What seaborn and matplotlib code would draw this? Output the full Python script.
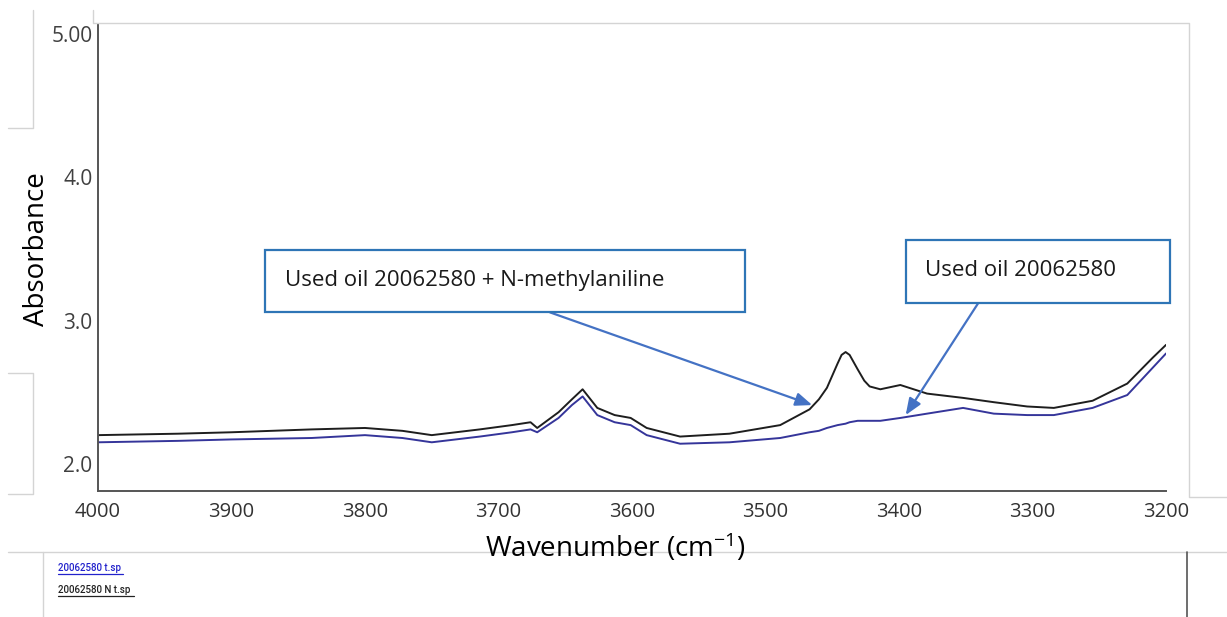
import matplotlib
matplotlib.use("Agg")
import matplotlib.pyplot as plt
from matplotlib.lines import Line2D
from matplotlib.patches import Rectangle
from matplotlib import font_manager
import seaborn as sns
import pandas as pd

# ---- data ----
wavenumber = [4000, 3940, 3900, 3840, 3800, 3772, 3750, 3714, 3690, 3676, 3671, 3655,
              3645, 3637, 3626, 3613, 3601, 3589, 3564, 3527, 3489, 3467, 3460, 3454,
              3446, 3443, 3440, 3437, 3431, 3426, 3422, 3414, 3399, 3379, 3352, 3329,
              3304, 3284, 3255, 3229, 3210, 3200]
abs_with_nma = [2.20, 2.21, 2.22, 2.24, 2.25, 2.23, 2.20, 2.24, 2.27, 2.29, 2.25, 2.36,
                2.45, 2.52, 2.39, 2.34, 2.32, 2.25, 2.19, 2.21, 2.27, 2.38, 2.45, 2.53,
                2.70, 2.76, 2.78, 2.76, 2.66, 2.58, 2.54, 2.52, 2.55, 2.49, 2.46, 2.43,
                2.40, 2.39, 2.44, 2.56, 2.74, 2.83]
abs_used_oil = [2.15, 2.16, 2.17, 2.18, 2.20, 2.18, 2.15, 2.19, 2.22, 2.24, 2.22, 2.32,
                2.41, 2.47, 2.34, 2.29, 2.27, 2.20, 2.14, 2.15, 2.18, 2.22, 2.23, 2.25,
                2.27, 2.275, 2.28, 2.29, 2.30, 2.30, 2.30, 2.30, 2.32, 2.35, 2.39, 2.35,
                2.34, 2.34, 2.39, 2.48, 2.67, 2.77]
series_names = ["20062580 N t.sp", "20062580 t.sp"]
x_ticks = [4000, 3900, 3800, 3700, 3600, 3500, 3400, 3300, 3200]
y_ticks = [2.0, 3.0, 4.0, 5.0]
y_tick_labels = ["2.0", "3.0", "4.0", "5.00"]
label_nma = "Used oil 20062580 + N-methylaniline"
label_oil = "Used oil 20062580"

df = pd.DataFrame({
    "wavenumber": wavenumber * 2,
    "absorbance": abs_with_nma + abs_used_oil,
    "sample": [series_names[0]] * len(wavenumber) + [series_names[1]] * len(wavenumber),
})

sns.set_style("white")
plt.rcParams["font.family"] = ["Open Sans", "DejaVu Sans"]
plt.rcParams["mathtext.fontset"] = "custom"
plt.rcParams["mathtext.rm"] = "Open Sans"
plt.rcParams["mathtext.default"] = "regular"

W, H = 1227, 617
fig = plt.figure(figsize=(W / 100, H / 100), dpi=100)
ax = fig.add_axes([98 / W, 1 - 491 / H, (1166 - 98) / W, (491 - 24) / H])

palette = {series_names[0]: "#1e1e1e", series_names[1]: "#35359a"}
sns.lineplot(data=df, x="wavenumber", y="absorbance", hue="sample", palette=palette,
             linewidth=1.4, ax=ax, legend=False, sort=False, estimator=None)

ax.set_xlim(4000, 3200)
ax.set_ylim(1.81, 5.07)
ax.set_xticks(x_ticks)
ax.set_xticklabels([str(t) for t in x_ticks], fontsize=14.5, color="#333333")
ax.set_yticks(y_ticks)
ax.set_yticklabels(y_tick_labels, fontsize=15, color="#404040")
ax.set_yticks([2.5, 3.5, 4.5], minor=True)
ax.tick_params(axis="y", which="both", direction="out", length=3, width=1.2,
               color="#555555", pad=1)
ax.tick_params(axis="x", which="major", direction="in", length=4, width=1.2,
               color="#555555", pad=8)
ax.set_xlabel("")
ax.set_ylabel("")
for s in ["top", "right"]:
    ax.spines[s].set_visible(False)
for s in ["left", "bottom"]:
    ax.spines[s].set_color("#555555")
    ax.spines[s].set_linewidth(1.4)

# axis titles
fig.text(37 / W, 1 - 249 / H, "Absorbance", rotation=90, ha="center", va="center",
         fontsize=20, color="black")
fig.text(615 / W, 1 - 548 / H, "Wavenumber (cm$^{-1}$)", ha="center", va="center",
         fontsize=20, color="black", zorder=5)

# annotation boxes
box_col = "#2e75b6"
arrow_col = "#4472c4"
ax.add_patch(Rectangle((0.1564, 0.3825), 0.6058 - 0.1564, 0.5171 - 0.3825,
                       transform=ax.transAxes, fill=True, facecolor="white",
                       edgecolor=box_col, linewidth=1.6, clip_on=False, zorder=4))
ax.text(0.175, 0.451, label_nma, transform=ax.transAxes, fontsize=16,
        va="center", ha="left", color="#1a1a1a", zorder=5)
ax.add_patch(Rectangle((0.7566, 0.4017), 1.0037 - 0.7566, 0.5385 - 0.4017,
                       transform=ax.transAxes, fill=True, facecolor="white",
                       edgecolor=box_col, linewidth=1.6, clip_on=False, zorder=4))
ax.text(0.774, 0.472, label_oil, transform=ax.transAxes, fontsize=16,
        va="center", ha="left", color="#1a1a1a", zorder=5)

ax.annotate("", xy=(3465, 2.41), xycoords="data", xytext=(0.4232, 0.3825),
            textcoords="axes fraction",
            arrowprops=dict(arrowstyle="-|>,head_length=1.0,head_width=0.4",
                            color=arrow_col, lw=1.6, shrinkA=0, shrinkB=0),
            zorder=3)
ax.annotate("", xy=(3395, 2.34), xycoords="data", xytext=(0.8240, 0.4017),
            textcoords="axes fraction",
            arrowprops=dict(arrowstyle="-|>,head_length=1.0,head_width=0.4",
                            color=arrow_col, lw=1.6, shrinkA=0, shrinkB=0),
            zorder=3)

# screenshot frame lines
def fline(xs, ys, color="#d4d4d4", lw=1.0, z=1):
    fig.add_artist(Line2D([x / W for x in xs], [1 - y / H for y in ys],
                          color=color, lw=lw, zorder=z))

fline([8, 33, 33], [128, 128, 10])
fline([8, 33, 33, 8], [373, 373, 494, 494])
fline([93, 93, 1189, 1189, 1227], [10, 23, 23, 497, 497])
fline([8, 1227], [552, 552])
fline([43, 43], [552, 617])
fline([1187, 1187], [552, 617], color="#555555", lw=1.2)

# bottom legend strip (narrow font if available)
names = {f.name for f in font_manager.fontManager.ttflist}
if "Liberation Sans Narrow" in names:
    leg_font, leg_size, leg_weight = ["Liberation Sans Narrow", "DejaVu Sans"], 8.5, "bold"
else:
    leg_font, leg_size, leg_weight = ["Roboto", "DejaVu Sans"], 7, "medium"
fig.text(58 / W, 1 - 568 / H, series_names[1], fontsize=leg_size, color="#2222cc",
         family=leg_font, va="center", ha="left", fontweight=leg_weight)
fline([58, 123], [574, 574], color="#2222cc", lw=0.9)
fig.text(58 / W, 1 - 590 / H, series_names[0], fontsize=leg_size, color="#222222",
         family=leg_font, va="center", ha="left", fontweight=leg_weight)
fline([58, 134], [596, 596], color="#222222", lw=0.9)

fig.savefig("out.png", dpi=100)
